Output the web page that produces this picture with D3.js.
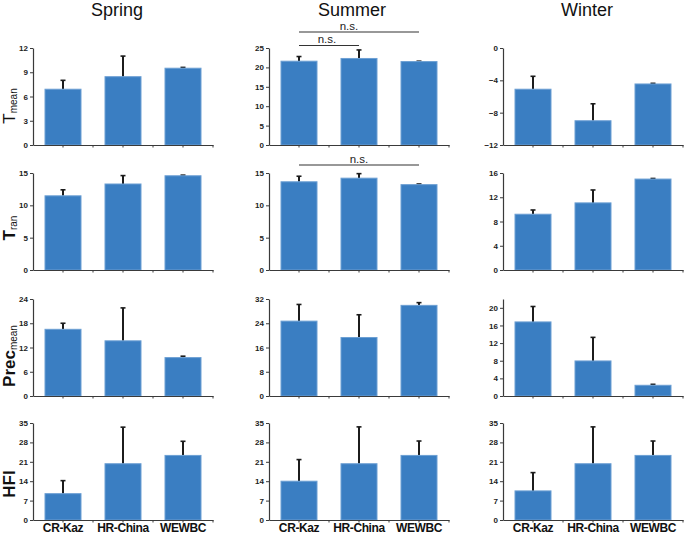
<!DOCTYPE html>
<html><head><meta charset="utf-8">
<script src="https://cdn.jsdelivr.net/npm/d3@7"></script>
<style>body{margin:0;background:#fff}svg{display:block;font-family:"Liberation Sans",Arial,sans-serif}</style>
</head><body>
<svg id="c" width="685" height="534"></svg>
<script>
const categories = ["CR-Kaz", "HR-China", "WEWBC"];
const seasons = ["Spring", "Summer", "Winter"];
const variables = ["Tmean", "Tran", "Precmean", "HFI"];

// means per season [Spring, Summer, Winter]
const tmeanMeans = [[6.9, 8.45, 9.5], [21.6, 22.3, 21.5], [-5.1, -9.0, -4.45]];
const tmeanErr   = [[1.1, 2.55, 0.1], [1.2, 2.2, 0.1], [1.6, 2.1, 0.08]];
const tranMeans  = [[11.47, 13.3, 14.57], [13.64, 14.2, 13.2], [9.2, 11.07, 15.0]];
const tranErr    = [[0.93, 1.3, 0.1], [0.86, 0.7, 0.1], [0.7, 2.13, 0.1]];
const precMeans  = [[16.5, 13.65, 9.5], [24.7, 19.3, 29.9], [16.8, 7.95, 2.43]];
const precErr    = [[1.5, 8.15, 0.35], [5.5, 7.5, 0.9], [3.5, 5.35, 0.22]];
const hfiMeans   = [[9.5, 20.3, 23.3], [14.0, 20.3, 23.3], [10.5, 20.3, 23.3]];
const hfiErr     = [[4.7, 13.2, 5.1], [7.8, 13.3, 5.2], [6.6, 13.3, 5.2]];

// y domains and tick values per [row][season]
const yDomains = [
  [[0, 12], [0, 25], [-12, 0]],
  [[0, 15], [0, 15], [0, 16]],
  [[0, 24], [0, 32], [0, 22]],
  [[0, 35], [0, 35], [0, 35]]
];
const yTicks = [
  [[0, 3, 6, 9, 12], [0, 5, 10, 15, 20, 25], [-12, -8, -4, 0]],
  [[0, 5, 10, 15], [0, 5, 10, 15], [0, 4, 8, 12, 16]],
  [[0, 6, 12, 18, 24], [0, 8, 16, 24, 32], [0, 4, 8, 12, 16, 20]],
  [[0, 7, 14, 21, 28, 35], [0, 7, 14, 21, 28, 35], [0, 7, 14, 21, 28, 35]]
];
// significance brackets: [row, season, fromIndex, toIndex, label]
const sigMarks = [
  [0, 1, 0, 2, "n.s."],
  [0, 1, 0, 1, "n.s."],
  [1, 1, 0, 2, "n.s."]
];

const allMeans = [tmeanMeans, tranMeans, precMeans, hfiMeans];
const allErr = [tmeanErr, tranErr, precErr, hfiErr];

const svg = d3.select("#c");
const colX = [33, 269, 503];
const rowY = [48, 173, 299, 423];
const pw = 180, ph = 97;
const axisColor = "#3a3a3a";

const x = d3.scaleBand().domain(categories).range([0, pw]).paddingInner(0.4).paddingOuter(0.2);

// titles
const titleX = [117, 352, 587];
seasons.forEach((s, i) => {
  svg.append("text").attr("x", titleX[i]).attr("y", 16).attr("text-anchor", "middle")
    .attr("font-size", 18).attr("fill", "#111").text(s);
});

const panels = {};
for (let r = 0; r < 4; r++) {
  for (let c = 0; c < 3; c++) {
    const g = svg.append("g").attr("transform", `translate(${colX[c]},${rowY[r]})`);
    const dom = yDomains[r][c];
    const y = d3.scaleLinear().domain(dom).range([ph, 0]);
    panels[r + "_" + c] = {g, y};
    const means = allMeans[r][c], errs = allErr[r][c];
    const data = categories.map((k, i) => ({k, m: means[i], e: errs[i]}));
    // error bars
    const eg = g.selectAll(".err").data(data).enter().append("g");
    eg.append("line").attr("x1", d => x(d.k) + x.bandwidth() / 2).attr("x2", d => x(d.k) + x.bandwidth() / 2)
      .attr("y1", d => y(d.m)).attr("y2", d => y(d.m + d.e)).attr("stroke", "#1c1c1c").attr("stroke-width", 2);
    eg.append("line").attr("x1", d => x(d.k) + x.bandwidth() / 2 - 2.5).attr("x2", d => x(d.k) + x.bandwidth() / 2 + 2.5)
      .attr("y1", d => y(d.m + d.e)).attr("y2", d => y(d.m + d.e)).attr("stroke", "#1c1c1c").attr("stroke-width", 1.6);
    // bars from the bottom of the domain
    g.selectAll(".bar").data(data).enter().append("rect")
      .attr("x", d => x(d.k)).attr("width", x.bandwidth())
      .attr("y", d => y(d.m)).attr("height", d => y(dom[0]) - y(d.m))
      .attr("fill", "#3a7ec2").attr("stroke", "#6c9fd3").attr("stroke-width", 1);
    // y axis
    const ya = g.append("g").call(d3.axisLeft(y).tickValues(yTicks[r][c]).tickSize(3).tickPadding(2).tickSizeOuter(0));
    ya.select(".domain").attr("stroke", axisColor).attr("stroke-width", 1.2);
    ya.selectAll(".tick line").attr("stroke", axisColor);
    ya.selectAll(".tick text").attr("font-size", 8).attr("font-weight", "bold").attr("fill", "#222")
      .attr("font-family", "Liberation Sans, Arial, sans-serif");
    // x axis
    const xa = g.append("g").attr("transform", `translate(0,${ph})`)
      .call(d3.axisBottom(x).tickSize(2.5).tickSizeOuter(0).tickFormat(r === 3 ? null : ""));
    xa.select(".domain").attr("stroke", axisColor).attr("stroke-width", 1.2);
    xa.selectAll(".tick line").attr("stroke", axisColor);
    xa.selectAll(".tick text").attr("font-size", 12).attr("font-weight", "bold").attr("fill", "#111")
      .attr("font-family", "Liberation Sans, Arial, sans-serif").attr("letter-spacing", -0.4)
      .attr("y", 12).attr("dy", 0);
    // minor ticks at band boundaries
    const bounds = [x.step(), 2 * x.step(), pw];
    xa.selectAll(".minor").data(bounds).enter().append("line")
      .attr("x1", d => d).attr("x2", d => d).attr("y1", 0).attr("y2", 2.5).attr("stroke", axisColor);
  }
}

// significance brackets
sigMarks.forEach(([r, c, a, b, lab]) => {
  const p = panels[r + "_" + c];
  const x1 = x(categories[a]) + x.bandwidth() / 2, x2 = x(categories[b]) + x.bandwidth() / 2;
  let ly;
  if (r === 0 && b === 2) ly = -16;
  else if (r === 0) ly = -2.5;
  else ly = -8;
  p.g.append("line").attr("x1", x1).attr("x2", x2).attr("y1", ly).attr("y2", ly).attr("stroke", "#333").attr("stroke-width", 1.2);
  const tx = (r === 0 && b === 2) ? (x1 + x2) / 2 - 10 : (x1 + x2) / 2 - (r === 0 ? 2 : 0);
  p.g.append("text").attr("x", tx).attr("y", ly - 2.5).attr("text-anchor", "middle")
    .attr("font-size", 11.5).attr("fill", "#222").text(lab);
});

// row labels
const rowLabels = [
  {main: "T", sub: "mean", bold: false, cy: 106},
  {main: "T", sub: "ran", bold: true, cy: 228},
  {main: "Prec", sub: "mean", bold: true, cy: 356},
  {main: "HFI", sub: "", bold: true, cy: 484}
];
rowLabels.forEach(l => {
  const t = svg.append("text").attr("transform", `translate(15,${l.cy}) rotate(-90)`)
    .attr("text-anchor", "middle").attr("fill", "#111");
  t.append("tspan").attr("font-size", 17).attr("font-weight", l.bold ? "bold" : "normal").text(l.main);
  if (l.sub) t.append("tspan").attr("font-size", 10).attr("dy", 1.5).text(l.sub);
});
</script>
</body></html>
